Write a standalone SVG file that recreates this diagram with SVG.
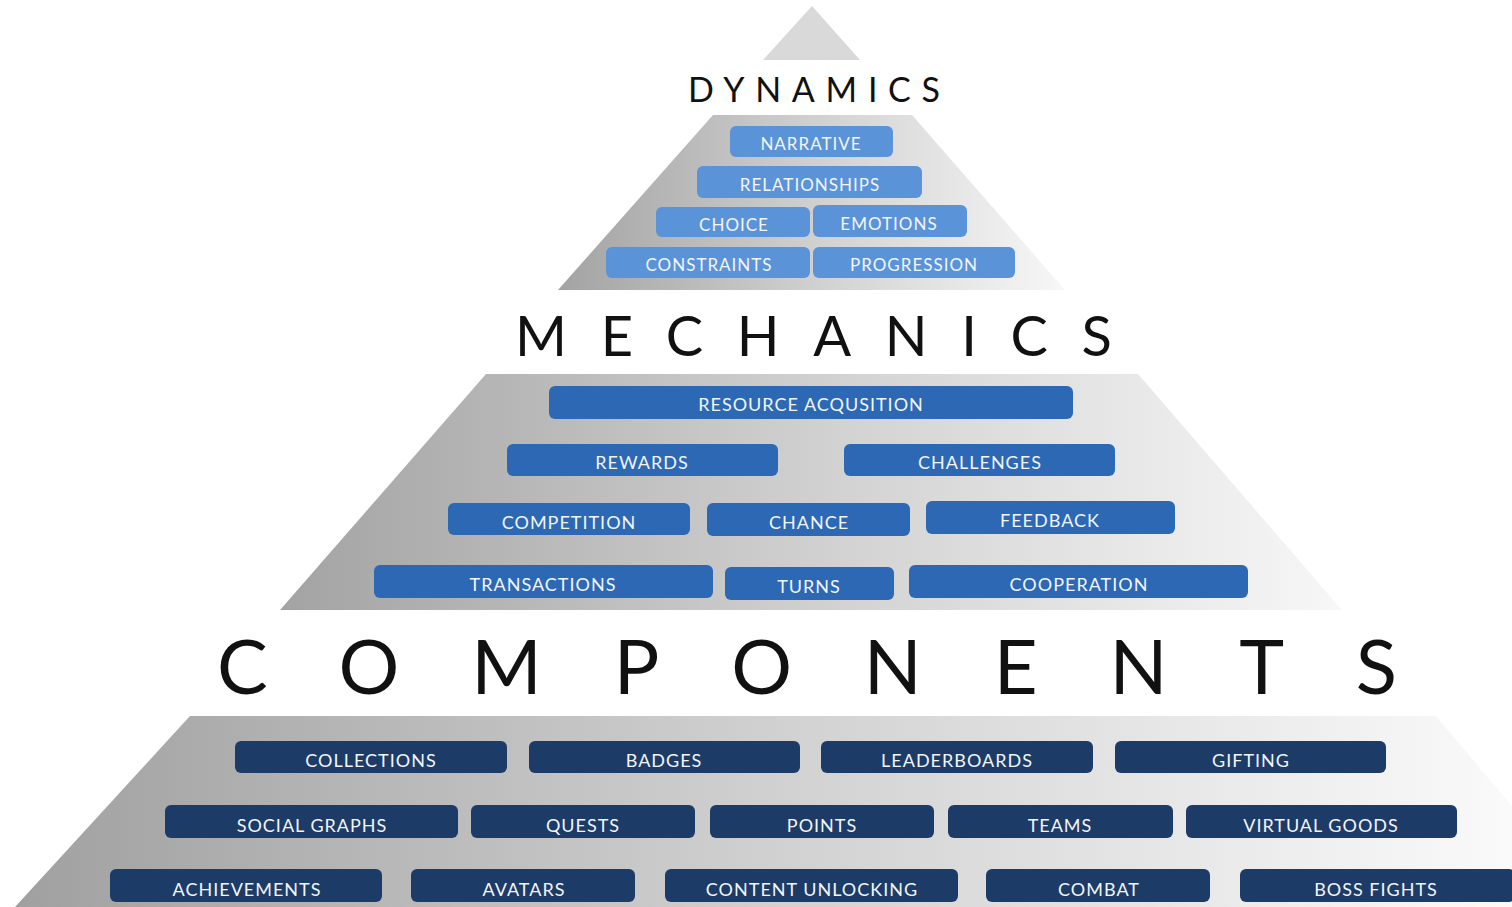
<svg xmlns="http://www.w3.org/2000/svg" width="1512" height="907" viewBox="0 0 1512 907">
<defs>
<linearGradient id="g1" x1="0" y1="0" x2="1" y2="0">
<stop offset="0" stop-color="#a3a3a3"/>
<stop offset="0.55" stop-color="#d4d4d4"/>
<stop offset="1" stop-color="#f7f7f7"/>
</linearGradient>
<linearGradient id="g2" x1="0" y1="0" x2="1" y2="0">
<stop offset="0" stop-color="#a0a0a0"/>
<stop offset="0.5" stop-color="#d0d0d0"/>
<stop offset="1" stop-color="#fafafa"/>
</linearGradient>
<style>
.title{font-family:Lato,"Open Sans","Liberation Sans",sans-serif;font-weight:400;fill:#111;}
.lbl{font-family:Lato,"Open Sans","Liberation Sans",sans-serif;fill:#f2f5fa;text-anchor:middle;letter-spacing:1px;}
.d rect{fill:#5b93d8;}
.m rect{fill:#2c68b3;}
.c rect{fill:#1c3b66;}
.d text{font-size:17px;}
.m text,.c text{font-size:18px;}
</style>
</defs>
<rect width="1512" height="907" fill="#ffffff"/>
<g id="pyramid">
<polygon points="812,6 860,60 763,60" fill="#d9d9d9"/>
<polygon points="713,115 912,115 1065,290 558,290" fill="url(#g1)"/>
<polygon points="486,374 1138,374 1342,610 280,610" fill="url(#g1)"/>
<polygon points="190,716 1436,716 1512,806 1512,907 15,907" fill="url(#g2)"/>
</g>
<g id="titles">
<text class="title" x="688" y="102" font-size="34" textLength="252" lengthAdjust="spacing">DYNAMICS</text>
<text class="title" x="515" y="356" font-size="56" textLength="597" lengthAdjust="spacing">MECHANICS</text>
<text class="title" x="217" y="694" font-size="76" textLength="1180" lengthAdjust="spacing">COMPONENTS</text>
</g>
<g id="dynamics" class="d">
<g id="narrative"><rect x="730" y="126" width="163" height="31" rx="6"/><text class="lbl" x="811" y="150">NARRATIVE</text></g>
<g id="relationships"><rect x="697" y="166" width="225" height="32" rx="6"/><text class="lbl" x="810" y="191">RELATIONSHIPS</text></g>
<g id="choice"><rect x="656" y="207" width="154" height="30" rx="6"/><text class="lbl" x="734" y="231">CHOICE</text></g>
<g id="emotions"><rect x="813" y="205" width="154" height="32" rx="6"/><text class="lbl" x="889" y="230">EMOTIONS</text></g>
<g id="constraints"><rect x="606" y="247" width="204" height="31" rx="6"/><text class="lbl" x="709" y="271">CONSTRAINTS</text></g>
<g id="progression"><rect x="813" y="247" width="202" height="31" rx="6"/><text class="lbl" x="914" y="271">PROGRESSION</text></g>
</g>
<g id="mechanics" class="m">
<g id="resource"><rect x="549" y="386" width="524" height="33" rx="6"/><text class="lbl" x="811" y="411">RESOURCE ACQUSITION</text></g>
<g id="rewards"><rect x="507" y="444" width="271" height="32" rx="6"/><text class="lbl" x="642" y="469">REWARDS</text></g>
<g id="challenges"><rect x="844" y="444" width="271" height="32" rx="6"/><text class="lbl" x="980" y="469">CHALLENGES</text></g>
<g id="competition"><rect x="448" y="503" width="242" height="32" rx="6"/><text class="lbl" x="569" y="529">COMPETITION</text></g>
<g id="chance"><rect x="707" y="503" width="203" height="33" rx="6"/><text class="lbl" x="809" y="529">CHANCE</text></g>
<g id="feedback"><rect x="926" y="501" width="249" height="33" rx="6"/><text class="lbl" x="1050" y="527">FEEDBACK</text></g>
<g id="transactions"><rect x="374" y="565" width="339" height="33" rx="6"/><text class="lbl" x="543" y="591">TRANSACTIONS</text></g>
<g id="turns"><rect x="725" y="567" width="169" height="33" rx="6"/><text class="lbl" x="809" y="593">TURNS</text></g>
<g id="cooperation"><rect x="909" y="565" width="339" height="33" rx="6"/><text class="lbl" x="1079" y="591">COOPERATION</text></g>
</g>
<g id="components" class="c">
<g id="collections"><rect x="235" y="741" width="272" height="32" rx="6"/><text class="lbl" x="371" y="767">COLLECTIONS</text></g>
<g id="badges"><rect x="529" y="741" width="271" height="32" rx="6"/><text class="lbl" x="664" y="767">BADGES</text></g>
<g id="leaderboards"><rect x="821" y="741" width="272" height="32" rx="6"/><text class="lbl" x="957" y="767">LEADERBOARDS</text></g>
<g id="gifting"><rect x="1115" y="741" width="271" height="32" rx="6"/><text class="lbl" x="1251" y="767">GIFTING</text></g>
<g id="social"><rect x="165" y="805" width="293" height="33" rx="6"/><text class="lbl" x="312" y="832">SOCIAL GRAPHS</text></g>
<g id="quests"><rect x="471" y="805" width="224" height="33" rx="6"/><text class="lbl" x="583" y="832">QUESTS</text></g>
<g id="points"><rect x="710" y="805" width="224" height="33" rx="6"/><text class="lbl" x="822" y="832">POINTS</text></g>
<g id="teams"><rect x="948" y="805" width="225" height="33" rx="6"/><text class="lbl" x="1060" y="832">TEAMS</text></g>
<g id="virtual"><rect x="1186" y="805" width="271" height="33" rx="6"/><text class="lbl" x="1321" y="832">VIRTUAL GOODS</text></g>
<g id="achievements"><rect x="110" y="869" width="272" height="33" rx="6"/><text class="lbl" x="247" y="896">ACHIEVEMENTS</text></g>
<g id="avatars"><rect x="411" y="869" width="224" height="33" rx="6"/><text class="lbl" x="524" y="896">AVATARS</text></g>
<g id="content"><rect x="665" y="869" width="293" height="33" rx="6"/><text class="lbl" x="812" y="896">CONTENT UNLOCKING</text></g>
<g id="combat"><rect x="986" y="869" width="224" height="33" rx="6"/><text class="lbl" x="1099" y="896">COMBAT</text></g>
<g id="boss"><rect x="1240" y="869" width="275" height="33" rx="6"/><text class="lbl" x="1376" y="896">BOSS FIGHTS</text></g>
</g>
</svg>
